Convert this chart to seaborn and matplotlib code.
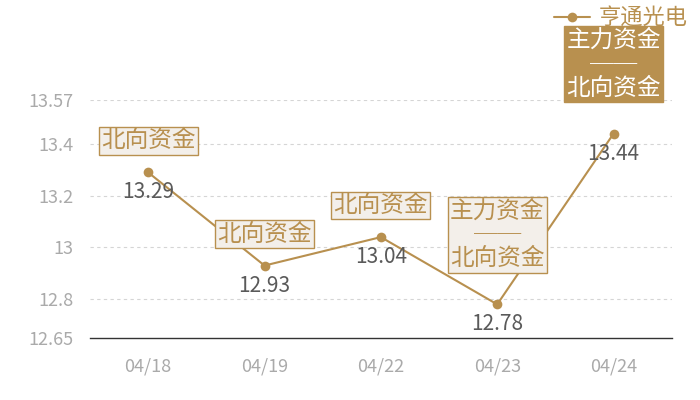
import matplotlib
matplotlib.use("Agg")
import matplotlib.pyplot as plt
import seaborn as sns
import pandas as pd

dates = ["04/18", "04/19", "04/22", "04/23", "04/24"]
prices = [13.29, 12.93, 13.04, 12.78, 13.44]
tags = ["北向资金", "北向资金", "北向资金", "主力资金\n──\n北向资金", "主力资金\n──\n北向资金"]
yticks = [12.65, 12.8, 13, 13.2, 13.4, 13.57]
ytick_labels = ["12.65", "12.8", "13", "13.2", "13.4", "13.57"]
series_name = "亨通光电"

gold = "#b8904f"
light_fill = "#f3efea"

sns.set_style("white")
plt.rcParams["font.family"] = ["Noto Sans CJK SC", "DejaVu Sans"]

df = pd.DataFrame({"date": dates, "price": prices})

fig = plt.figure(figsize=(7, 4), dpi=100)
ax = fig.add_axes([0.1286, 0.155, 0.831, 0.595])

sns.lineplot(data=df, x="date", y="price", ax=ax, color=gold, marker="o",
             markersize=7, markeredgewidth=0, linewidth=1.5, label=series_name)

ax.set_xlim(-0.5, len(dates) - 0.5)
ax.set_ylim(yticks[0], yticks[-1])
ax.set_yticks(yticks)
ax.set_yticklabels(ytick_labels)
ax.set_xlabel("")
ax.set_ylabel("")
ax.tick_params(axis="both", length=0, labelsize=13, labelcolor="#aaaaaa")
ax.tick_params(axis="x", pad=14)
ax.tick_params(axis="y", pad=12)
for y in yticks[1:]:
    ax.axhline(y, color="#d5d5d5", linestyle=(0, (3, 3)), linewidth=0.8, zorder=0)
for side in ["top", "right", "left"]:
    ax.spines[side].set_visible(False)
ax.spines["bottom"].set_color("#333333")
ax.spines["bottom"].set_linewidth(1)

for i, (p, t) in enumerate(zip(prices, tags)):
    ax.annotate(f"{p:.2f}", (i, p), xytext=(0, -9), textcoords="offset pixels",
                ha="center", va="top", fontsize=15, color="#5a5a5a")
    last = i == len(prices) - 1
    two_line = "\n" in t
    ax.annotate(t, (i, p), xytext=(0, 34 if two_line else 20), textcoords="offset pixels",
                ha="center", va="bottom", fontsize=17, linespacing=1.05,
                color="white" if last else gold, annotation_clip=False,
                bbox=dict(boxstyle="square,pad=0.1",
                          fc=gold if last else light_fill,
                          ec=gold, lw=1), zorder=5)

leg = ax.legend(loc="upper right", bbox_to_anchor=(0.995, 1.005), bbox_transform=fig.transFigure,
                frameon=False, fontsize=16, labelcolor=gold, handlelength=1.6,
                handletextpad=0.4, borderaxespad=0)
leg.set_zorder(1)

fig.savefig("out.png", dpi=100)
